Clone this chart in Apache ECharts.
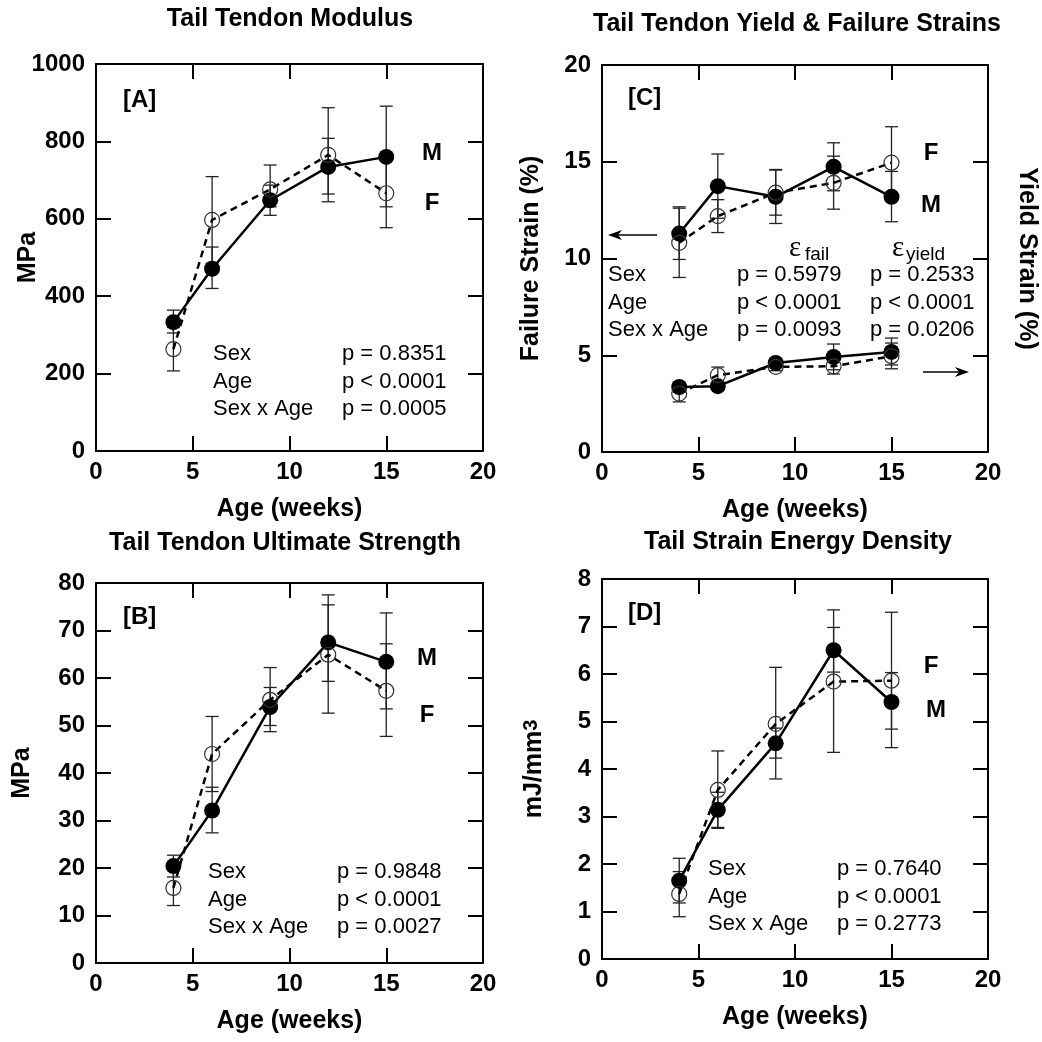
<!DOCTYPE html>
<html>
<head>
<meta charset="utf-8">
<script src="https://cdn.jsdelivr.net/npm/echarts@6/dist/echarts.min.js"></script>
<style>
  html, body { margin: 0; padding: 0; background: #fff; }
  #main { width: 1042px; height: 1042px; }
</style>
</head>
<body>
<div id="main"></div>
<script>
// ages shared by all four panels
var ages = [4, 6, 9, 12, 15];

// [A] modulus (MPa)
var modM = [333, 471, 648, 734, 760];
var modMLo = [305, 420, 609, 664, 631];
var modMHi = [364, 527, 687, 808, 891];
var modF = [263, 597, 676, 765, 666];
var modFLo = [207, 485, 631, 644, 577];
var modFHi = [319, 709, 739, 887, 755];

// [B] ultimate strength (MPa)
var strM = [20.4, 32.1, 53.9, 67.5, 63.4];
var strMLo = [18.1, 27.4, 50.0, 59.3, 53.5];
var strMHi = [22.7, 37.0, 58.0, 75.4, 73.7];
var strF = [15.8, 44.0, 55.4, 64.9, 57.3];
var strFLo = [12.1, 36.1, 48.7, 52.6, 47.7];
var strFHi = [19.5, 51.9, 62.2, 77.5, 67.2];

// [C] failure strain (%)
var failM = [11.29, 13.74, 13.19, 14.74, 13.19];
var failMLo = [9.95, 12.08, 11.81, 13.5, 11.9];
var failMHi = [12.67, 15.4, 14.57, 15.98, 14.5];
var failF = [10.81, 12.19, 13.4, 13.91, 14.95];
var failFLo = [9.02, 11.34, 12.24, 12.55, 13.1];
var failFHi = [12.6, 13.04, 14.6, 15.29, 16.81];
// [C] yield strain (%)
var yieldM = [3.36, 3.40, 4.60, 4.91, 5.17];
var yieldMLo = [3.1, 3.2, 4.4, 4.25, 4.5];
var yieldMHi = [3.6, 3.6, 4.8, 5.58, 5.89];
var yieldF = [3.02, 3.97, 4.40, 4.43, 4.95];
var yieldFLo = [2.59, 3.55, 4.2, 4.03, 4.3];
var yieldFHi = [3.45, 4.39, 4.6, 4.83, 5.63];

// [D] strain energy density (mJ/mm3)
var sedM = [1.65, 3.14, 4.54, 6.50, 5.41];
var sedMLo = [1.18, 2.77, 4.23, 6.04, 4.84];
var sedMHi = [2.12, 3.51, 4.86, 6.98, 6.03];
var sedF = [1.37, 3.56, 4.95, 5.84, 5.86];
var sedFLo = [0.89, 2.75, 3.79, 4.35, 4.45];
var sedFHi = [1.84, 4.38, 6.14, 7.35, 7.30];

var FONT = "'Liberation Sans', Arial, Helvetica, sans-serif";

var chart = echarts.init(document.getElementById('main'));

var grids = [
    { left: 96, top: 64, width: 387, height: 387 },
    { left: 96, top: 583, width: 387, height: 380 },
    { left: 602, top: 65, width: 386, height: 387 },
    { left: 602, top: 579, width: 386, height: 380 }
];

var yRanges = [
    { max: 1000, interval: 200, name: 'MPa', gap: 55 },
    { max: 80, interval: 10, name: 'MPa', gap: 61 },
    { max: 20, interval: 5, name: 'Failure Strain (%)', gap: 58 },
    { max: 8, interval: 1, name: '{n|mJ/mm}{s|3}', gap: 55 }
];

var frameLine = { show: true, onZero: false, lineStyle: { color: '#000', width: 2 } };
var innerTick = { show: true, inside: true, length: 15, lineStyle: { color: '#000', width: 2 } };
var tickFont = {
    show: true, color: '#000', fontFamily: FONT, fontWeight: 'bold', fontSize: 24,
    showMinLabel: true, showMaxLabel: true,
    formatter: function (v) { return String(v); }
};

var xAxes = [], yAxes = [];
grids.forEach(function (g, i) {
    xAxes.push({
        type: 'value', gridIndex: i, position: 'bottom', min: 0, max: 20, interval: 5,
        name: 'Age (weeks)', nameLocation: 'middle', nameGap: 46, nameMoveOverlap: false,
        nameTextStyle: { color: '#000', fontFamily: FONT, fontWeight: 'bold', fontSize: 25 },
        axisLine: frameLine, axisTick: innerTick,
        axisLabel: Object.assign({ margin: 9 }, tickFont),
        splitLine: { show: false }
    });
    xAxes.push({
        type: 'value', gridIndex: i, position: 'top', min: 0, max: 20, interval: 5,
        axisLine: frameLine, axisTick: innerTick, axisLabel: { show: false }, splitLine: { show: false }
    });
    var r = yRanges[i];
    yAxes.push({
        type: 'value', gridIndex: i, position: 'left', min: 0, max: r.max, interval: r.interval,
        name: r.name, nameLocation: 'middle', nameGap: r.gap, nameRotate: 90, nameMoveOverlap: false,
        nameTextStyle: {
            color: '#000', fontFamily: FONT, fontWeight: 'bold', fontSize: 25,
            rich: {
                n: { fontFamily: FONT, fontWeight: 'bold', fontSize: 25, color: '#000' },
                s: { fontFamily: FONT, fontWeight: 'bold', fontSize: 20, color: '#000', padding: [0, 0, 6, 0] }
            }
        },
        axisLine: frameLine, axisTick: innerTick,
        axisLabel: Object.assign({ margin: 11 }, tickFont),
        splitLine: { show: false }
    });
    yAxes.push({
        type: 'value', gridIndex: i, position: 'right', min: 0, max: r.max, interval: r.interval,
        name: i === 2 ? 'Yield Strain (%)' : '', nameLocation: 'middle', nameGap: 26, nameRotate: -90,
        nameMoveOverlap: false,
        nameTextStyle: { color: '#000', fontFamily: FONT, fontWeight: 'bold', fontSize: 25 },
        axisLine: frameLine, axisTick: innerTick, axisLabel: { show: false }, splitLine: { show: false }
    });
});

function pairs(vals) {
    return ages.map(function (a, k) { return [a, vals[k]]; });
}

function lineM(gi, vals) {
    return {
        type: 'line', xAxisIndex: gi * 2, yAxisIndex: gi * 2, data: pairs(vals),
        symbol: 'circle', symbolSize: 16, z: 4,
        lineStyle: { color: '#000', width: 2.5 },
        itemStyle: { color: '#000' }
    };
}

function lineF(gi, vals) {
    return {
        type: 'line', xAxisIndex: gi * 2, yAxisIndex: gi * 2, data: pairs(vals),
        symbol: 'circle', symbolSize: 15, z: 5,
        lineStyle: { color: '#000', width: 2.5, type: [7, 5] },
        itemStyle: { color: 'rgba(255,255,255,0)', borderColor: '#333', borderWidth: 1.2 }
    };
}

function errBars(gi, lo, hi) {
    return {
        type: 'custom', xAxisIndex: gi * 2, yAxisIndex: gi * 2, z: 3,
        data: ages.map(function (a, k) { return [a, lo[k], hi[k]]; }),
        encode: { x: 0, y: [1, 2] },
        renderItem: function (params, api) {
            var x = api.value(0);
            var p1 = api.coord([x, api.value(1)]);
            var p2 = api.coord([x, api.value(2)]);
            var w = 6.5;
            var st = { stroke: '#222', lineWidth: 1.3 };
            return {
                type: 'group',
                children: [
                    { type: 'line', shape: { x1: p1[0], y1: p1[1], x2: p2[0], y2: p2[1] }, style: st },
                    { type: 'line', shape: { x1: p1[0] - w, y1: p1[1], x2: p1[0] + w, y2: p1[1] }, style: st },
                    { type: 'line', shape: { x1: p2[0] - w, y1: p2[1], x2: p2[0] + w, y2: p2[1] }, style: st }
                ]
            };
        }
    };
}

var series = [
    errBars(0, modMLo, modMHi), errBars(0, modFLo, modFHi), lineM(0, modM), lineF(0, modF),
    errBars(1, strMLo, strMHi), errBars(1, strFLo, strFHi), lineM(1, strM), lineF(1, strF),
    errBars(2, failMLo, failMHi), errBars(2, failFLo, failFHi), lineM(2, failM), lineF(2, failF),
    errBars(2, yieldMLo, yieldMHi), errBars(2, yieldFLo, yieldFHi), lineM(2, yieldM), lineF(2, yieldF),
    errBars(3, sedMLo, sedMHi), errBars(3, sedFLo, sedFHi), lineM(3, sedM), lineF(3, sedF)
];

// text annotations
function txt(x, y, text, size, bold, align, family) {
    return {
        type: 'text', x: x, y: y, z: 10,
        style: {
            text: text, fill: '#000', align: align || 'left', verticalAlign: 'middle',
            font: (bold ? 'bold ' : '') + size + 'px ' + (family || FONT)
        }
    };
}

function stats(x, px, y, labels, pvals) {
    var out = [];
    labels.forEach(function (l, k) {
        out.push(txt(x, y + k * 27.5, l, 22, false));
        out.push(txt(px, y + k * 27.5, pvals[k], 22, false));
    });
    return out;
}

function arrow(x1, x2, y) {
    var dir = x2 > x1 ? 1 : -1;
    return {
        type: 'group', z: 10,
        children: [
            { type: 'line', shape: { x1: x1, y1: y, x2: x2 - dir * 8, y2: y }, style: { stroke: '#000', lineWidth: 1.5 } },
            { type: 'polygon', shape: { points: [[x2, y], [x2 - dir * 14, y - 5], [x2 - dir * 10, y], [x2 - dir * 14, y + 5]] }, style: { fill: '#000' } }
        ]
    };
}

var SERIF = "'Liberation Serif', 'Times New Roman', serif";
var rowLabels = ['Sex', 'Age', 'Sex x Age'];
var graphics = [
    txt(290, 19, 'Tail Tendon Modulus', 25, true, 'center'),
    txt(285, 543, 'Tail Tendon Ultimate Strength', 25, true, 'center'),
    txt(797, 24, 'Tail Tendon Yield & Failure Strains', 25, true, 'center'),
    txt(798, 542, 'Tail Strain Energy Density', 25, true, 'center'),

    txt(123, 100, '[A]', 24, true), txt(123, 617, '[B]', 24, true),
    txt(628, 98, '[C]', 24, true), txt(628, 613, '[D]', 24, true),

    txt(432, 153, 'M', 24, true, 'center'), txt(432, 203, 'F', 24, true, 'center'),
    txt(427, 658, 'M', 24, true, 'center'), txt(427, 715, 'F', 24, true, 'center'),
    txt(931, 153, 'F', 24, true, 'center'), txt(931, 205, 'M', 24, true, 'center'),
    txt(931, 666, 'F', 24, true, 'center'), txt(936, 710, 'M', 24, true, 'center'),

    txt(789, 248, 'ε', 29, false, 'left', SERIF),
    txt(805, 255, 'fail', 19, false),
    txt(892, 248, 'ε', 29, false, 'left', SERIF),
    txt(906, 255, 'yield', 19, false),

    arrow(657, 608, 235),
    arrow(923, 969, 372)
];
graphics = graphics
    .concat(stats(213, 342, 354, rowLabels, ['p = 0.8351', 'p < 0.0001', 'p = 0.0005']))
    .concat(stats(208, 337, 872, rowLabels, ['p = 0.9848', 'p < 0.0001', 'p = 0.0027']))
    .concat(stats(608, 737, 275, rowLabels, ['p = 0.5979', 'p < 0.0001', 'p = 0.0093']))
    .concat(stats(870, 870, 275, ['', '', ''], ['p = 0.2533', 'p < 0.0001', 'p = 0.0206']))
    .concat(stats(708, 837, 869, rowLabels, ['p = 0.7640', 'p < 0.0001', 'p = 0.2773']));

var option = {
    animation: false,
    backgroundColor: '#fff',
    grid: grids,
    xAxis: xAxes,
    yAxis: yAxes,
    series: series,
    graphic: graphics
};

chart.setOption(option);
</script>
</body>
</html>
